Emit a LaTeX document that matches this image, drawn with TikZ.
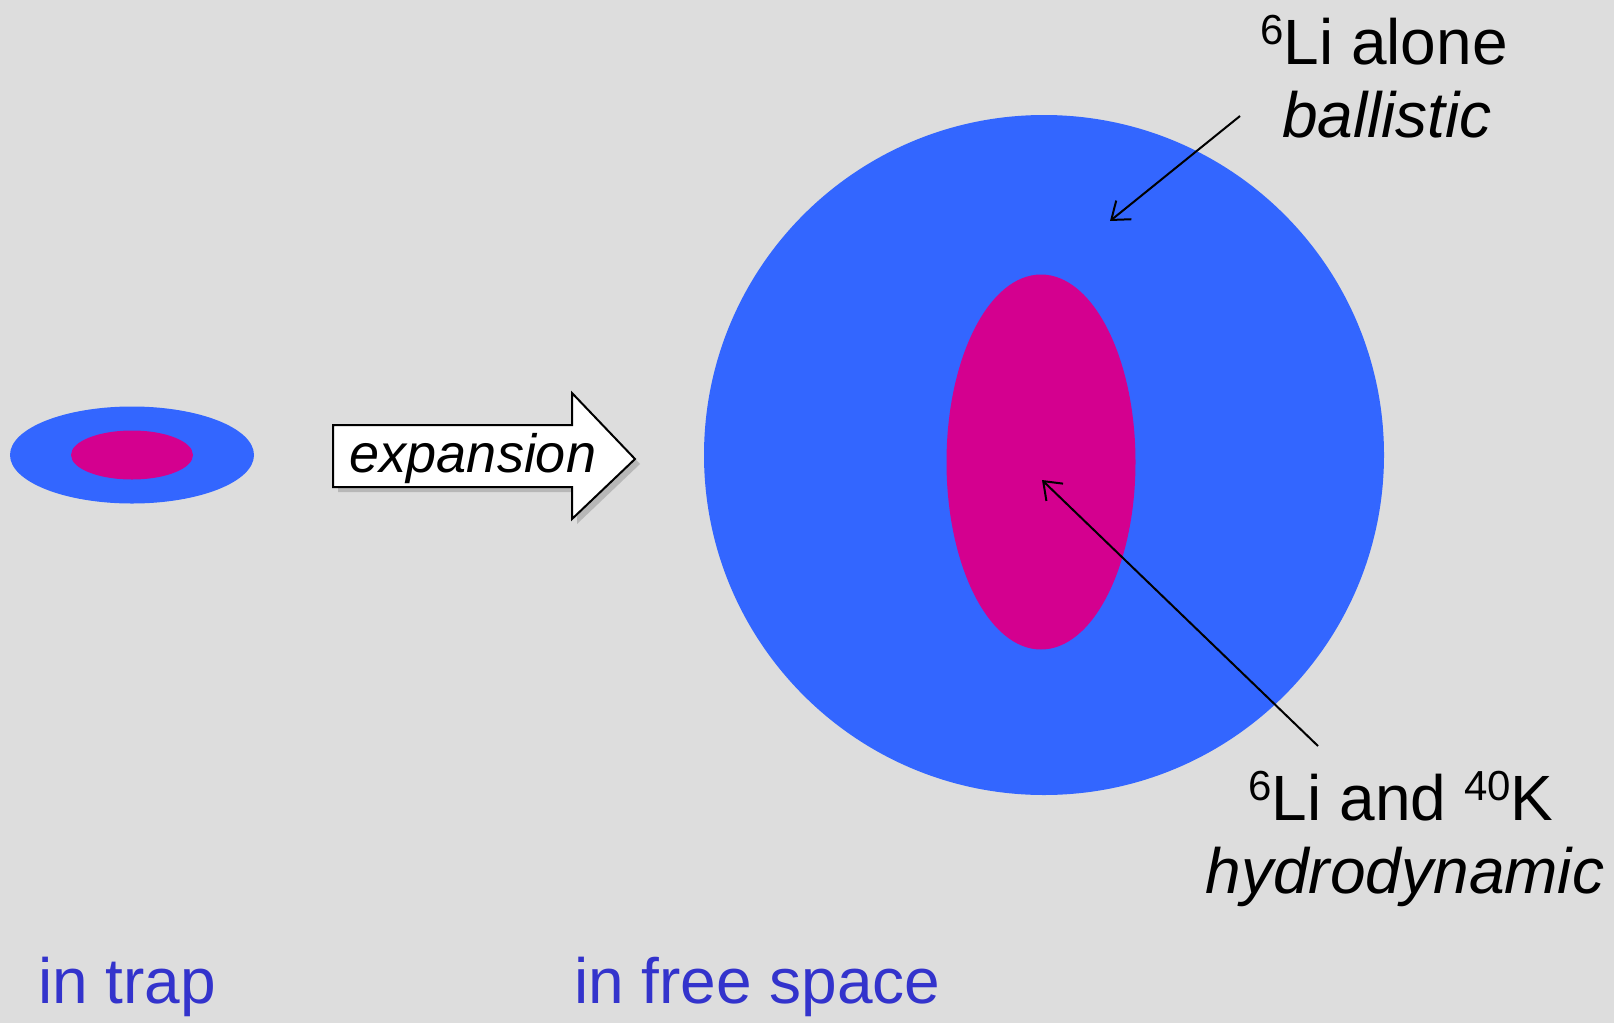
\documentclass[tikz,border=0pt]{standalone}
\usepackage{fontspec}
\setmainfont{Liberation Sans}
\usepackage{tikz}
\usetikzlibrary{shapes.geometric,shadows,arrows.meta}
\definecolor{bgcol}{HTML}{DDDDDD}
\definecolor{cloudblue}{HTML}{3366FF}
\definecolor{cloudpink}{HTML}{D4008F}
\definecolor{labblue}{HTML}{3333CC}
\newcommand\isot[1]{\raisebox{0.3em}{\fontsize{42}{42}\selectfont #1}}
\tikzset{
	big/.style={font=\fontsize{64}{77}\selectfont,inner sep=0pt},
	cloud/.style={ellipse,inner sep=0pt,draw=none},
	pointer/.style={line width=2pt,-{Straight Barb[length=16pt,width=24pt,line width=2pt]}}
}

\begin{document}
\begin{tikzpicture}[x=1pt,y=-1pt]
		\fill[bgcol] (0,0) rectangle (1614,1023);
		\useasboundingbox (0,0) rectangle (1614,1023);
		\node[cloud,fill=cloudblue,minimum width=244pt,minimum height=97pt] (trapout) at (132,455) {};
		\node[cloud,fill=cloudpink,minimum width=122pt,minimum height=49pt] (trapin) at (132,455) {};
		\node[circle,inner sep=0pt,fill=cloudblue,minimum size=680pt] (freeout) at (1044,455) {};
		\node[cloud,fill=cloudpink,minimum width=189pt,minimum height=375pt] (freein) at (1041,462) {};
		\filldraw[fill=white,draw=black,line width=2pt,drop shadow={shadow xshift=5pt,shadow yshift=-5pt,opacity=.4}]
			(333,425) -- (572,425) -- (572,393) -- (635,459) -- (572,519) -- (572,487) -- (333,487) -- cycle;
		\node[font=\fontsize{54}{64}\selectfont\itshape,inner sep=0pt,anchor=base] (expansion) at (473,472) {expansion};
		\node[big,anchor=base] (lialone) at (1384,64) {\isot{6}Li alone};
		\node[big,anchor=base,font=\fontsize{64}{77}\selectfont\itshape] (ballistic) at (1387,137) {ballistic};
		\node[big,anchor=base] (liandk) at (1401,820) {\isot{6}Li and \isot{40}K};
		\node[big,anchor=base,font=\fontsize{64}{77}\selectfont\itshape] (hydro) at (1405,893) {hydrodynamic};
		\node[big,anchor=base west,text=labblue] (intrap) at (38,1003) {in trap};
		\node[big,anchor=base west,text=labblue] (infree) at (574,1003) {in free space};
		\coordinate (balltail) at (1240,116);
		\coordinate (balltip) at (1110,221);
		\coordinate (hydrotail) at (1318,746);
		\coordinate (hydrotip) at (1042,480);
		\draw[pointer] (balltail) -- (balltip);
		\draw[pointer] (hydrotail) -- (hydrotip);
\end{tikzpicture}
\end{document}
